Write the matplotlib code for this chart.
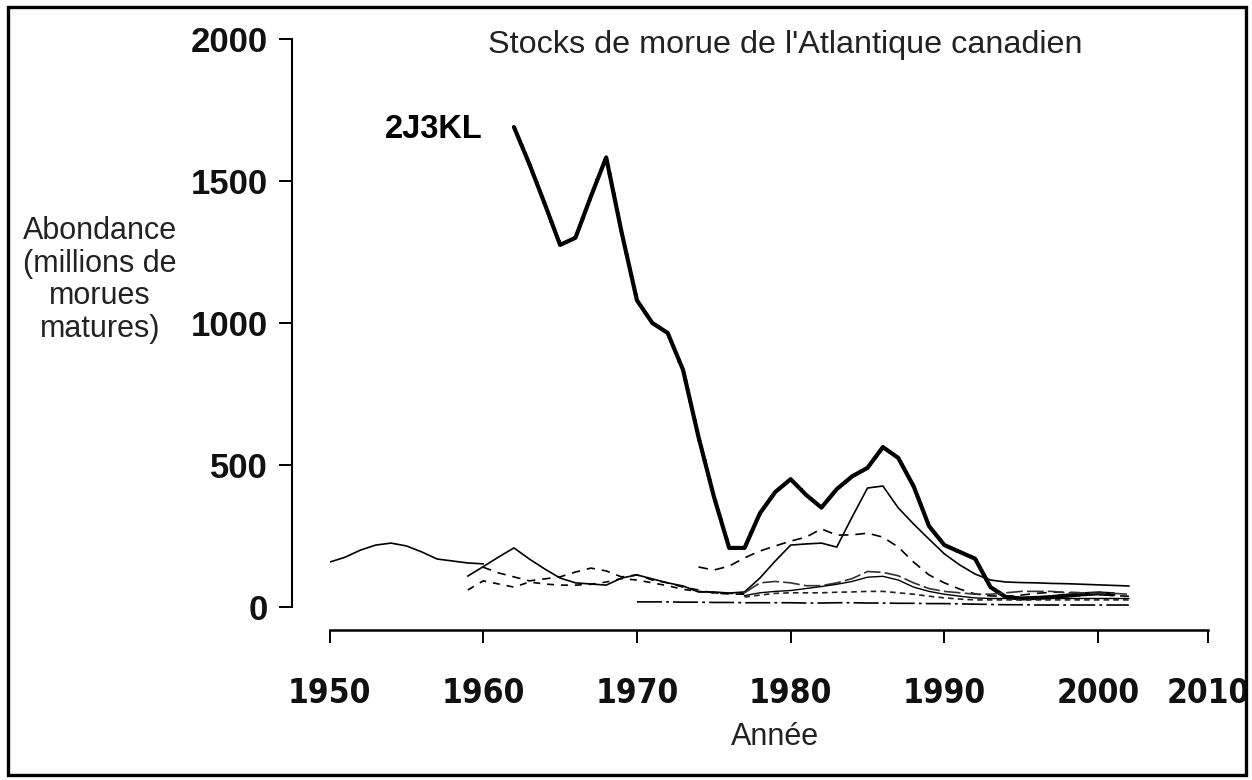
import matplotlib
matplotlib.use("Agg")
import matplotlib.pyplot as plt
from matplotlib.patches import Rectangle
from matplotlib import font_manager as fm

plt.rcParams['lines.scale_dashes'] = False
plt.rcParams['font.family'] = ['Liberation Sans', 'DejaVu Sans']

# ---------------- data ----------------
years_2J3KL = list(range(1962, 2002))
vals_2J3KL = [1690, 1560, 1420, 1275, 1300, 1445, 1583, 1320, 1080, 1000,
              965, 835, 600, 390, 208, 208, 330, 405, 450, 395,
              350, 415, 460, 490, 563, 525, 425, 285, 218, 194,
              170, 70, 35, 30, 32, 35, 40, 45, 48, 45]

years_a = list(range(1950, 1961))
vals_a = [158, 175, 200, 218, 225, 215, 194, 169, 162, 155, 152]

years_b = list(range(1959, 2003))
vals_b = [109, 142, 176, 208, 169, 134, 102, 85, 81, 77,
          102, 113, 99, 85, 74, 53, 53, 49, 53, 102,
          162, 218, 222, 225, 211, 317, 419, 426, 349, 292,
          239, 187, 148, 116, 95, 88, 86, 85, 83, 82,
          80, 78, 76, 74]

years_c = list(range(1974, 2003))
vals_c = [141, 130, 144, 173, 197, 215, 232, 246, 275, 253,
          254, 260, 246, 211, 158, 113, 85, 63, 46, 39,
          38, 42, 48, 52, 52, 50, 45, 40, 38]

years_d = list(range(1960, 1978))
vals_d = [140, 120, 106, 92, 99, 106, 123, 137, 127, 106,
          113, 95, 85, 70, 60, 49, 46, 45]

years_e = list(range(1959, 1978))
vals_e = [60, 92, 81, 70, 88, 81, 77, 77, 80, 88,
          100, 95, 85, 75, 62, 55, 50, 48, 47]

years_f = list(range(1970, 2003))
vals_f = [18, 18, 18, 17, 17, 16, 16, 15, 15, 15,
          15, 14, 14, 15, 15, 14, 14, 13, 13, 12,
          12, 11, 10, 9, 8, 8, 7, 7, 7, 7,
          7, 7, 7]

years_g = list(range(1977, 2003))
vals_g = [50, 85, 90, 85, 75, 75, 85, 100, 125, 122,
          110, 85, 65, 55, 50, 45, 45, 50, 55, 55,
          55, 50, 50, 48, 48, 45]

years_h = list(range(1977, 2003))
vals_h = [40, 50, 55, 58, 65, 72, 80, 90, 105, 108,
          95, 70, 55, 45, 38, 32, 30, 30, 30, 30,
          30, 30, 30, 30, 30, 30]

years_j = list(range(1977, 2003))
vals_j = [35, 42, 48, 50, 50, 50, 52, 53, 55, 55,
          50, 45, 38, 32, 28, 25, 25, 25, 25, 25,
          25, 25, 25, 25, 25, 25]

y_ticks = [0, 500, 1000, 1500, 2000]
y_tick_labels = ['0', '500', '1000', '1500', '2000']
x_tick_pos = [1950, 1960, 1970, 1980, 1990, 2000, 2007.15]
x_tick_labels = ['1950', '1960', '1970', '1980', '1990', '2000', '2010']

title = "Stocks de morue de l'Atlantique canadien"
ylabel = "Abondance\n(millions de\nmorues\nmatures)"
xlabel = "Année"
stock_label = "2J3KL"

# ---------------- figure ----------------
W, H = 1252, 780
fig = plt.figure(figsize=(W / 100, H / 100), dpi=100)


def fx(x):
    return x / W


def fy(y):
    return 1 - y / H


# condensed bold font for the year labels, if available
narrow = None
for f in fm.fontManager.ttflist:
    if ('Narrow' in f.name or 'Condensed' in f.fname) and f.weight in (700, 'bold'):
        if 'Liberation' in f.name or 'DejaVuSansCondensed-Bold' in f.fname:
            narrow = f.fname
            break
if narrow is not None:
    xfont = fm.FontProperties(fname=narrow, size=24)
else:
    xfont = fm.FontProperties(family='Liberation Sans', weight='bold', size=23)

ax = fig.add_axes([fx(329.5), fy(607), (1208 - 329.5) / W, (607 - 39) / H])
ax.set_xlim(1950, 2007.15)
ax.set_ylim(0, 2000)
ax.patch.set_visible(False)

k = 'black'
ax.plot(years_2J3KL, vals_2J3KL, color=k, lw=3.0, ls=(0, (14, 0.8)),
        solid_joinstyle='round', dash_joinstyle='round', dash_capstyle='round')
ax.plot(years_a, vals_a, color=k, lw=1.2)
ax.plot(years_b, vals_b, color=k, lw=1.2)
ax.plot(years_c, vals_c, color=k, lw=1.2, ls=(0, (7, 5)))
ax.plot(years_d, vals_d, color=k, lw=1.2, ls=(0, (6, 5)))
ax.plot(years_e, vals_e, color=k, lw=1.2, ls=(0, (5, 5)))
ax.plot(years_f, vals_f, color=k, lw=1.2, ls=(0, (18, 3, 2, 3)))
ax.plot(years_g, vals_g, color='#333333', lw=1.2, ls=(0, (12, 3)))
ax.plot(years_h, vals_h, color=k, lw=1.0)
ax.plot(years_j, vals_j, color='#222222', lw=1.2, ls=(0, (4, 3)))

for s in ['top', 'right']:
    ax.spines[s].set_visible(False)
ax.spines['left'].set_position(('outward', 37.5 * 0.72))
ax.spines['bottom'].set_position(('outward', 23 * 0.72))
ax.spines['left'].set_bounds(0, 2000)
ax.spines['bottom'].set_bounds(1950, 2007.15)
ax.spines['left'].set_linewidth(1.5)
ax.spines['bottom'].set_linewidth(1.8)

ax.set_yticks(y_ticks)
ax.set_yticklabels(y_tick_labels, fontsize=25, fontweight='bold', color='#111111')
ax.set_xticks(x_tick_pos)
ax.set_xticklabels(x_tick_labels, fontproperties=xfont, color='#111111')
ax.tick_params(axis='y', direction='out', length=9.5, width=1.4, pad=8)
ax.tick_params(axis='x', direction='out', length=9.5, width=1.4, pad=24)

fig.text(fx(785), fy(45), title, fontsize=23.3, ha='center', va='center',
         color='#222222')
fig.text(fx(100), fy(280), ylabel, fontsize=22, ha='center', va='center',
         multialignment='center', linespacing=1.12, color='#222222')
fig.text(fx(775), fy(737), xlabel, fontsize=22, ha='center', va='center',
         color='#222222')
fig.text(fx(385), fy(130), stock_label, fontsize=23.5, fontweight='bold',
         ha='left', va='center')

fig.patches.append(Rectangle((fx(8), fy(775)), (1246 - 8) / W, (775 - 7) / H,
                             transform=fig.transFigure, fill=False,
                             edgecolor='black', lw=2.4))

fig.savefig('out.png', dpi=100)
